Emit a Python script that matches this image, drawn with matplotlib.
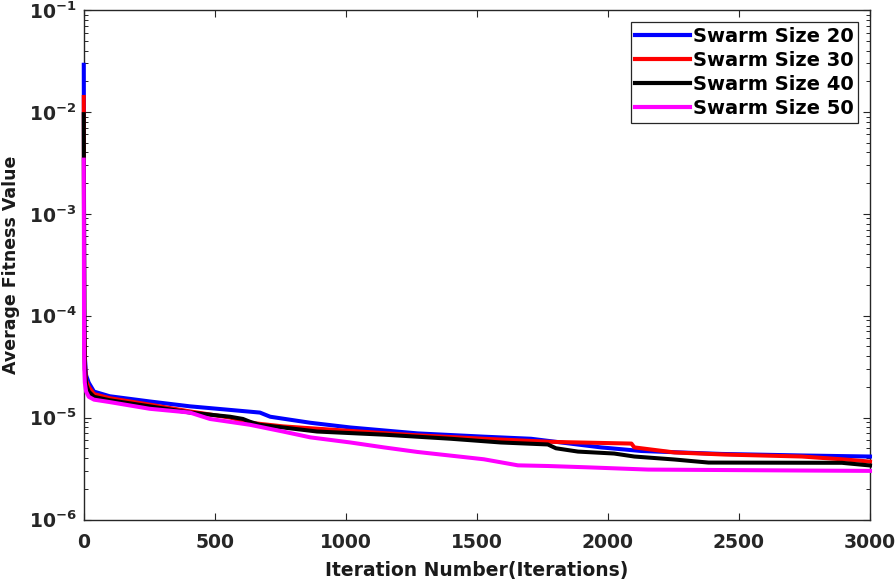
import math
import matplotlib
matplotlib.use("Agg")
import matplotlib.pyplot as plt
from matplotlib.ticker import FixedLocator, FuncFormatter, LogLocator, NullFormatter

# average fitness per iteration
iters_20 = [1, 2, 3, 5, 10, 20, 40, 100, 253, 406, 673, 712, 865, 1018, 1274, 1527,
            1707, 1974, 2128, 2434, 2740, 3000]
fit_20 = [2.9e-2, 1.2e-3, 1.2e-4, 4.0e-5, 2.6e-5, 2.2e-5, 1.8e-5, 1.62e-5, 1.44e-5,
          1.29e-5, 1.12e-5, 1.02e-5, 8.9e-6, 8.0e-6, 7.0e-6, 6.5e-6, 6.2e-6, 5.1e-6,
          4.7e-6, 4.4e-6, 4.25e-6, 4.15e-6]

iters_30 = [1, 2, 3, 5, 10, 20, 40, 100, 253, 406, 559, 635, 761, 1018, 1274, 1527,
            1771, 1822, 2090, 2101, 2254, 2445, 2740, 2904, 3000]
fit_30 = [1.4e-2, 9e-4, 8e-5, 3.5e-5, 2.3e-5, 2.0e-5, 1.7e-5, 1.55e-5, 1.34e-5, 1.15e-5,
          1.0e-5, 8.9e-6, 8.2e-6, 7.4e-6, 6.7e-6, 6.2e-6, 5.8e-6, 5.75e-6, 5.56e-6,
          5.1e-6, 4.55e-6, 4.34e-6, 4.15e-6, 3.88e-6, 3.7e-6]

iters_40 = [1, 2, 3, 5, 10, 20, 40, 100, 253, 406, 559, 608, 635, 673, 761, 891, 1146,
            1401, 1592, 1771, 1802, 1886, 2024, 2101, 2254, 2384, 2893, 3000]
fit_40 = [9.5e-3, 6e-4, 6e-5, 3e-5, 2.1e-5, 1.8e-5, 1.6e-5, 1.48e-5, 1.29e-5, 1.12e-5,
          1.02e-5, 9.7e-6, 9.1e-6, 8.5e-6, 8.0e-6, 7.3e-6, 6.8e-6, 6.2e-6, 5.7e-6,
          5.45e-6, 5.0e-6, 4.64e-6, 4.44e-6, 4.15e-6, 3.88e-6, 3.62e-6, 3.6e-6, 3.39e-6]

iters_50 = [1, 2, 3, 5, 10, 20, 40, 100, 253, 406, 482, 635, 761, 865, 1018, 1146, 1274,
            1527, 1657, 1771, 1924, 2154, 2790, 3000]
fit_50 = [3.4e-3, 5e-5, 3e-5, 2.2e-5, 1.8e-5, 1.6e-5, 1.5e-5, 1.42e-5, 1.22e-5, 1.12e-5,
          9.7e-6, 8.5e-6, 7.3e-6, 6.4e-6, 5.7e-6, 5.1e-6, 4.6e-6, 3.9e-6, 3.4e-6, 3.35e-6,
          3.25e-6, 3.09e-6, 3.02e-6, 3.0e-6]

labels = ['Swarm Size 20', 'Swarm Size 30', 'Swarm Size 40', 'Swarm Size 50']
x_ticks = [0, 500, 1000, 1500, 2000, 2500, 3000]
y_decades = [-6, -5, -4, -3, -2, -1]

plt.rcParams['font.family'] = ['DejaVu Sans']
plt.rcParams['mathtext.fontset'] = 'dejavusans'

fig = plt.figure(figsize=(8.96, 5.80), dpi=100)
ax = fig.add_axes([0.0932, 0.1043, 0.8778, 0.8785])

series = [(iters_20, fit_20, '#0000FF'), (iters_30, fit_30, '#FF0000'),
          (iters_40, fit_40, '#000000'), (iters_50, fit_50, '#FF00FF')]
for (xs, ys, c), lab in zip(series, labels):
    ax.plot(xs, ys, color=c, linewidth=2.9, label=lab, clip_on=False, zorder=3)

ax.set_yscale('log')
ax.set_xlim(0, 3000)
ax.set_ylim(1e-6, 1e-1)

ax.xaxis.set_major_locator(FixedLocator(x_ticks))
ax.yaxis.set_major_locator(FixedLocator([10.0 ** d for d in y_decades]))
ax.yaxis.set_minor_locator(LogLocator(base=10, subs=range(2, 10)))
ax.yaxis.set_minor_formatter(NullFormatter())
ax.yaxis.set_major_formatter(FuncFormatter(lambda v, p: r'$\mathbf{10^{%d}}$' % round(math.log10(v))))

ax.tick_params(axis='both', which='both', direction='in', top=True, right=True,
               colors='#262626', labelcolor='#262626')
ax.tick_params(axis='both', which='major', length=5, width=0.8, labelsize=13.5)
ax.tick_params(axis='x', which='major', pad=10)
ax.tick_params(axis='y', which='major', pad=5)
ax.tick_params(axis='y', which='minor', length=3, width=0.7)
for lbl in ax.get_xticklabels():
    lbl.set_fontweight('bold')
for sp in ax.spines.values():
    sp.set_color('#262626')
    sp.set_linewidth(1.0)

ax.set_xlabel('Iteration Number(Iterations)', fontsize=13.5, fontweight='bold',
              labelpad=6, color='#1a1a1a')
ax.set_ylabel('Average Fitness Value', fontsize=12.5, fontweight='bold',
              labelpad=6, color='#1a1a1a')

leg = ax.legend(loc='upper right', prop={'weight': 'bold', 'size': 14},
                frameon=True, fancybox=False, framealpha=1, edgecolor='#262626',
                handlelength=2.8, handletextpad=0.15, labelspacing=0.27,
                borderpad=0.25, borderaxespad=0.6)
leg.get_frame().set_linewidth(0.9)
for line in leg.get_lines():
    line.set_linewidth(3.0)

plt.savefig('out.png', dpi=100)
